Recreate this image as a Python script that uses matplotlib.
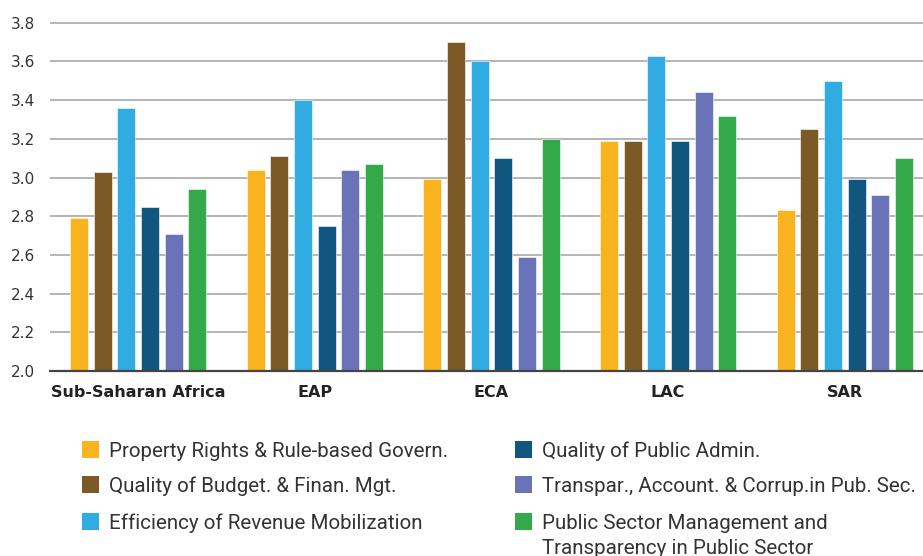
import matplotlib

matplotlib.use("Agg")

import matplotlib.pyplot as plt
from matplotlib.patches import Rectangle
import numpy as np

regions = ["Sub-Saharan Africa", "EAP", "ECA", "LAC", "SAR"]

series_names = [
    "Property Rights & Rule-based Govern.",
    "Quality of Budget. & Finan. Mgt.",
    "Efficiency of Revenue Mobilization",
    "Quality of Public Admin.",
    "Transpar., Account. & Corrup.in Pub. Sec.",
    "Public Sector Management and\nTransparency in Public Sector",
]

property_rights = [2.79, 3.04, 2.99, 3.19, 2.83]
budget_mgt = [3.03, 3.11, 3.70, 3.19, 3.25]
revenue_mob = [3.36, 3.40, 3.60, 3.63, 3.50]
public_admin = [2.85, 2.75, 3.10, 3.19, 2.99]
transparency = [2.71, 3.04, 2.59, 3.44, 2.91]
psm_overall = [2.94, 3.07, 3.20, 3.32, 3.10]

colors = ["#F8B31E", "#7B5A26", "#30ACE2", "#10567E", "#6A72B8", "#34A949"]

all_series = [property_rights, budget_mgt, revenue_mob,
              public_admin, transparency, psm_overall]

W, H = 923, 556
fig = plt.figure(figsize=(W / 100, H / 100), dpi=100)
ax = fig.add_axes([50 / W, 0.3327, 873 / W, 0.6334])

x = np.arange(len(regions))
pitch = 0.134
width = 0.102
for i, (vals, col) in enumerate(zip(all_series, colors)):
    ax.bar(x + (i - 2.5) * pitch, np.array(vals) - 2.0, width, bottom=2.0,
           color=col, zorder=3, edgecolor="white", linewidth=0.4)

ax.set_xlim(-0.5, 4.443)
ax.set_ylim(2.0, 3.82)
yt = np.arange(2.0, 3.81, 0.2)
ax.set_yticks(yt)
ax.set_yticklabels([f"{v:.1f}" for v in yt], fontsize=11, color="#333333")
ax.set_xticks(x)
ax.set_xticklabels(regions, fontsize=11.5, fontweight="bold", color="#222222")
ax.tick_params(axis="both", length=0)
ax.tick_params(axis="x", pad=10)
ax.tick_params(axis="y", pad=11)

ax.yaxis.grid(True, color="#a8a8a8", linewidth=1.2, zorder=0)
ax.set_axisbelow(True)
for side in ["left", "right", "top"]:
    ax.spines[side].set_visible(False)
ax.spines["bottom"].set_color("#444444")
ax.spines["bottom"].set_linewidth(1.6)
ax.spines["bottom"].set_zorder(4)

# legend, two columns, drawn by hand so the swatch sits on the first line
col_x = [82, 515]
row_bottom = [457.5, 492.5, 529.5]
sw, sh = 16.5, 17
line_step = 25  # px between baselines of a wrapped label
for i, (name, col) in enumerate(zip(series_names, colors)):
    cx = col_x[i // 3]
    yb = row_bottom[i % 3]
    fig.add_artist(Rectangle((cx / W, 1 - yb / H), sw / W, sh / H,
                             transform=fig.transFigure, color=col, lw=0))
    # baseline alignment uses the last line, so shift wrapped labels down
    y_base = yb - 0.5 + line_step * name.count("\n")
    fig.text((cx + 27) / W, 1 - y_base / H, name, ha="left", va="baseline",
             family=["Roboto", "DejaVu Sans"], fontsize=14.8,
             color="#333333", linespacing=1.4)

fig.savefig("out.png", dpi=100)
